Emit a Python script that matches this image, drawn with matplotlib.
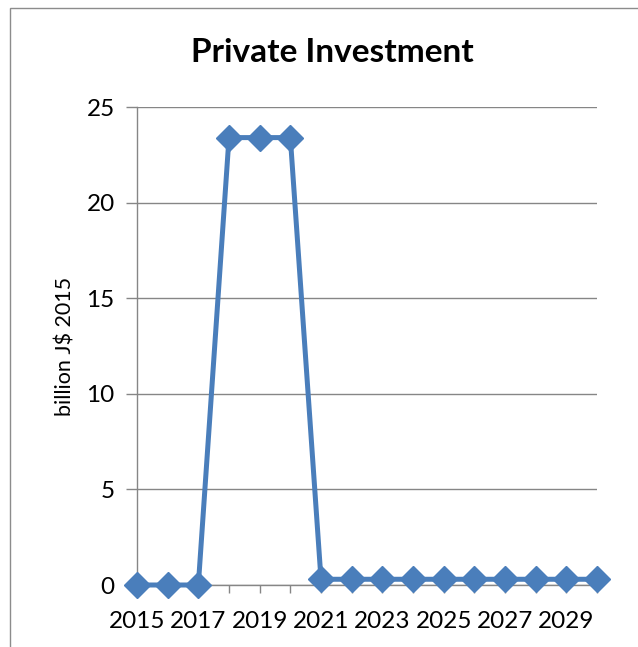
import matplotlib
matplotlib.use("Agg")
import matplotlib.pyplot as plt
from matplotlib.patches import Rectangle

years = list(range(2015, 2031))
investment = [0, 0, 0, 23.4, 23.4, 23.4,
              0.3, 0.3, 0.3, 0.3, 0.3, 0.3, 0.3, 0.3, 0.3, 0.3]
y_ticks = [0, 5, 10, 15, 20, 25]
x_label_years = list(range(2015, 2030, 2))

plt.rcParams['font.family'] = ['Lato', 'DejaVu Sans']

fig = plt.figure(figsize=(6.38, 6.47), dpi=100)
W, H = 638, 647

# outer chart frame
fig.patches.append(Rectangle((10 / W, -0.1), 1.2, (647 - 8) / H + 0.1,
                             transform=fig.transFigure, fill=False,
                             edgecolor='#8c8c8c', linewidth=1.0))

ax = fig.add_axes([137 / W, 1 - 585 / H, (597 - 137) / W, (585 - 107) / H])
grid_c = '#868686'

ax.plot(years, investment, color='#4a7ebb', linewidth=3.6, marker='D',
        markersize=13, markerfacecolor='#4a7ebb', markeredgecolor='#4a7ebb',
        clip_on=False, zorder=5)

ax.set_xlim(2015, 2030)
ax.set_ylim(0, 25)
ax.set_yticks(y_ticks)
ax.set_xticks(years)
ax.set_xticklabels([str(y) if y in x_label_years else '' for y in years])
ax.yaxis.grid(True, color=grid_c, linewidth=1.0)
ax.set_axisbelow(True)

for s in ['top', 'right']:
    ax.spines[s].set_visible(False)
for s in ['left', 'bottom']:
    ax.spines[s].set_color(grid_c)
    ax.spines[s].set_linewidth(1.0)

ax.tick_params(axis='y', length=8, width=1.0, color=grid_c, pad=8,
               labelsize=17.5)
ax.tick_params(axis='x', length=6, width=1.0, color=grid_c, pad=13,
               labelsize=17.5)

ax.set_ylabel('billion J$ 2015', fontsize=15.5, labelpad=8)

fig.text(332 / W, 1 - 52 / H, 'Private Investment', ha='center', va='center',
         fontsize=24, fontweight='bold')

fig.savefig('out.png', dpi=100)
